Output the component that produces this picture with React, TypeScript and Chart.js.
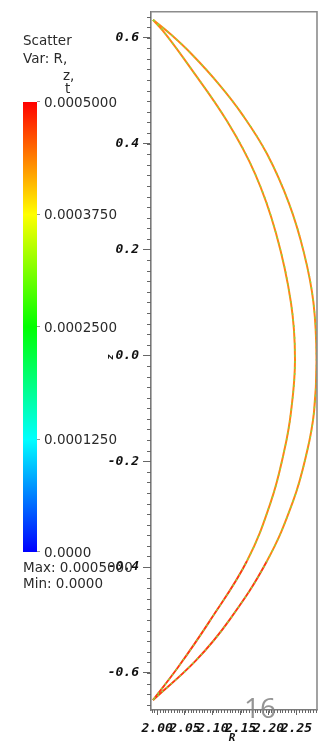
import React, { useEffect, useRef } from "react";
import { Chart, registerables } from "chart.js";

Chart.register(...registerables);

// Outer boundary of the crescent (R, z)
const outerZ = [0.634, 0.6059, 0.5683, 0.512, 0.4558, 0.3807, 0.2869, 0.1931, 0.0993, -0.0077, -0.1071, -0.1822, -0.276, -0.3885, -0.5011, -0.5762, -0.6512];
const outerR = [1.9926, 2.0249, 2.0626, 2.1111, 2.1524, 2.1972, 2.2367, 2.2637, 2.2807, 2.2861, 2.2816, 2.269, 2.2439, 2.1972, 2.129, 2.0698, 1.9926];
// Inner boundary of the crescent (R, z)
const innerZ = [0.634, 0.6059, 0.5496, 0.4426, 0.3432, 0.2306, 0.0993, -0.0077, -0.1071, -0.1822, -0.276, -0.3885, -0.5011, -0.5893, -0.6512];
const innerR = [1.9926, 2.0159, 2.0554, 2.1254, 2.1757, 2.2134, 2.2403, 2.2475, 2.2403, 2.2278, 2.2044, 2.1613, 2.0949, 2.0375, 1.9926];

const xTickValues = [2.0, 2.05, 2.1, 2.15, 2.2, 2.25];
const yTickValues = [-0.6, -0.4, -0.2, 0.0, 0.2, 0.4, 0.6];
const xRange = [1.989, 2.287];
const yRange = [-0.67, 0.649];

const colorbarLabels = ["0.0000", "0.0001250", "0.0002500", "0.0003750", "0.0005000"];
const legendLines = ["Scatter", "Var: R,"];
const maxLabel = "Max: 0.0005000";
const minLabel = "Min: 0.0000";
const pageNumber = "16";

const toPts = (rs: number[], zs: number[]) => rs.map((r, i) => ({ x: r, y: zs[i] }));

const baseColor = (ctx: any) => (ctx.p0.parsed.y < -0.3 ? "#ff3a12" : "#ff8416");

const decor = {
  id: "decor",
  afterDraw(chart: any) {
    const { ctx, chartArea: a, scales } = chart;
    const x = scales.x;
    const y = scales.y;
    ctx.save();
    // frame top/right
    ctx.strokeStyle = "#8c8c8c";
    ctx.lineWidth = 1.6;
    ctx.beginPath();
    ctx.moveTo(a.left, a.top);
    ctx.lineTo(a.right, a.top);
    ctx.lineTo(a.right, a.bottom);
    ctx.stroke();

    // minor ticks
    ctx.strokeStyle = "#666";
    ctx.lineWidth = 1;
    ctx.beginPath();
    for (let k = Math.ceil(yRange[0] / 0.02); k <= Math.floor(yRange[1] / 0.02); k++) {
      const py = Math.round(y.getPixelForValue(k * 0.02)) + 0.5;
      ctx.moveTo(a.left - 4, py);
      ctx.lineTo(a.left, py);
    }
    for (let k = Math.ceil(xRange[0] / 0.005); k <= Math.floor(xRange[1] / 0.005); k++) {
      const px = Math.round(x.getPixelForValue(k * 0.005)) + 0.5;
      ctx.moveTo(px, a.bottom);
      ctx.lineTo(px, a.bottom + 3);
    }
    ctx.stroke();

    // axis titles
    ctx.fillStyle = "#111";
    ctx.font = "bold italic 11px 'DejaVu Sans Mono'";
    ctx.textAlign = "center";
    ctx.textBaseline = "middle";
    ctx.fillText("R", 232, 738);
    ctx.save();
    ctx.translate(111, 357);
    ctx.rotate(-Math.PI / 2);
    ctx.font = "bold italic 9px 'DejaVu Sans Mono'";
    ctx.fillText("z", 0, 0);
    ctx.restore();

    // legend texts
    ctx.fillStyle = "#2a2a2a";
    ctx.font = "13.5px 'DejaVu Sans'";
    ctx.textAlign = "left";
    ctx.fillText(legendLines[0], 23, 41);
    ctx.fillText(legendLines[1], 23, 59);
    ctx.fillText("z,", 63, 76);
    ctx.fillText("t", 65, 89);

    // colorbar
    const top = 102, bot = 552;
    const g = ctx.createLinearGradient(0, bot, 0, top);
    g.addColorStop(0, "#0000ff");
    g.addColorStop(0.25, "#00ffff");
    g.addColorStop(0.5, "#00ff00");
    g.addColorStop(0.75, "#ffff00");
    g.addColorStop(1, "#ff0000");
    ctx.fillStyle = g;
    ctx.fillRect(23, top, 14, bot - top);
    ctx.strokeStyle = "#999";
    ctx.beginPath();
    colorbarLabels.forEach((_, i) => {
      const py = Math.round(bot - (i * (bot - top)) / (colorbarLabels.length - 1)) + 0.5;
      ctx.moveTo(37, py - 1);
      ctx.lineTo(40, py - 1);
    });
    ctx.stroke();
    ctx.fillStyle = "#2a2a2a";
    colorbarLabels.forEach((lab, i) => {
      const py = bot - (i * (bot - top)) / (colorbarLabels.length - 1);
      ctx.fillText(lab, 44, py + 1);
    });
    ctx.fillText(maxLabel, 23, 568);
    ctx.fillText(minLabel, 23, 584);

    // page number
    ctx.fillStyle = "rgba(130,130,130,0.85)";
    ctx.font = "28px 'Open Sans'";
    ctx.textAlign = "left";
    ctx.textBaseline = "alphabetic";
    ctx.fillText(pageNumber, 244, 718);
    ctx.restore();
  },
};

export default function App() {
  const ref = useRef<HTMLCanvasElement | null>(null);
  useEffect(() => {
    if (!ref.current) return;
    const tickFont = { family: "'DejaVu Sans Mono'", size: 13, weight: "bold" as const, style: "italic" as const };
    const lineBase = { showLine: true, pointRadius: 0, tension: 0.4 };
    const chart = new Chart(ref.current, {
      type: "scatter",
      data: {
        datasets: [
          {
            ...lineBase,
            data: toPts(outerR, outerZ),
            borderColor: "#86e03c",
            borderWidth: 1.4,
            borderDash: [2, 4],
            order: 1,
          },
          {
            ...lineBase,
            data: toPts(innerR, innerZ),
            borderColor: "#86e03c",
            borderWidth: 1.4,
            borderDash: [2, 4],
            order: 1,
          },
          {
            ...lineBase,
            data: toPts(outerR, outerZ),
            borderColor: "#ff8416",
            segment: { borderColor: baseColor },
            borderWidth: 2,
            order: 2,
          },
          {
            ...lineBase,
            data: toPts(innerR, innerZ),
            borderColor: "#ff8416",
            segment: { borderColor: baseColor },
            borderWidth: 2,
            order: 2,
          },
        ],
      },
      options: {
        animation: false,
        responsive: false,
        devicePixelRatio: 1,
        layout: { padding: { left: 0, right: 9, top: 7, bottom: 0 } },
        plugins: { legend: { display: false }, tooltip: { enabled: false } },
        scales: {
          x: {
            type: "linear",
            min: xRange[0],
            max: xRange[1],
            afterBuildTicks: (s: any) => {
              s.ticks = xTickValues.map((v) => ({ value: v }));
            },
            afterFit: (s: any) => {
              s.height = 34;
            },
            ticks: {
              autoSkip: false,
              maxRotation: 0,
              padding: 6,
              color: "#111",
              font: tickFont,
              callback: (v: any) => Number(v).toFixed(2),
            },
            grid: { drawOnChartArea: false, tickLength: 5, color: "#666" },
            border: { color: "#7a7a7a", width: 1.6 },
          },
          y: {
            type: "linear",
            min: yRange[0],
            max: yRange[1],
            afterBuildTicks: (s: any) => {
              s.ticks = yTickValues.map((v) => ({ value: v }));
            },
            afterFit: (s: any) => {
              s.width = 151;
            },
            ticks: {
              autoSkip: false,
              padding: 4,
              color: "#111",
              font: tickFont,
              callback: (v: any) => Number(v).toFixed(1),
            },
            grid: { drawOnChartArea: false, tickLength: 8, color: "#666" },
            border: { color: "#7a7a7a", width: 1.6 },
          },
        },
      },
      plugins: [decor],
    });
    return () => chart.destroy();
  }, []);
  return (
    <div style={{ position: "fixed", left: 0, top: 0, width: 326, height: 744, background: "#fff" }}>
      <canvas ref={ref} width={326} height={744} style={{ width: 326, height: 744, display: "block" }} />
    </div>
  );
}
